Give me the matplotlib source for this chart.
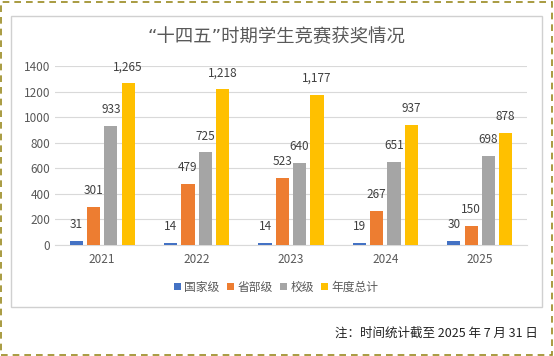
import matplotlib
matplotlib.use("Agg")
import matplotlib.pyplot as plt
from matplotlib.patches import Rectangle
import numpy as np

plt.rcParams['font.family'] = ['Noto Sans CJK SC', 'DejaVu Sans']

years = ["2021", "2022", "2023", "2024", "2025"]
series_names = ["国家级", "省部级", "校级", "年度总计"]
national = [31, 14, 14, 19, 30]
provincial = [301, 479, 523, 267, 150]
school = [933, 725, 640, 651, 698]
total = [1265, 1218, 1177, 937, 878]
colors = ["#4472C4", "#ED7D31", "#A5A5A5", "#FFC000"]
yticks = [0, 200, 400, 600, 800, 1000, 1200, 1400]

W, H = 554, 356
fig = plt.figure(figsize=(W/100, H/100), dpi=100)

# outer dashed border
fig.patches.append(Rectangle((1/W, 1/H), 1 - 3/W, 1 - 3/H, transform=fig.transFigure,
                             fill=False, edgecolor="#9a8a20", linestyle=(0, (4, 3)), linewidth=1.2))
# inner chart box
fig.patches.append(Rectangle((11/W, 1 - 307/H), (542-11)/W, (307-16)/H, transform=fig.transFigure,
                             fill=False, edgecolor="#D0D0D0", linewidth=1.0))

ax = fig.add_axes([55/W, 1 - 245/H, (527-55)/W, (245-66)/H])
x = np.arange(len(years))
width = 0.14
step = 0.183
data = [national, provincial, school, total]
for i, (vals, c, name) in enumerate(zip(data, colors, series_names)):
    pos = x + (i - 1.5) * step
    ax.bar(pos, vals, width=width, color=c, label=name, zorder=3)
    for p, v in zip(pos, vals):
        ax.annotate(f"{v:,}", (p, v), xytext=(0, 7), textcoords="offset points",
                    ha="center", va="bottom", fontsize=8.5, color="#404040")

ax.set_xlim(-0.5, 4.5)
ax.set_ylim(0, 1400)
ax.set_yticks(yticks)
ax.set_xticks(x)
ax.set_xticklabels(years)
ax.yaxis.grid(True, color="#D9D9D9", linewidth=0.8, zorder=0)
for s in ["top", "right", "left"]:
    ax.spines[s].set_visible(False)
ax.spines["bottom"].set_color("#D9D9D9")
ax.tick_params(axis="both", length=0, colors="#595959", labelsize=8.5)
ax.tick_params(axis="x", pad=6)

fig.text(276/W, 1 - 37/H, "“十四五”时期学生竞赛获奖情况", ha="center", va="center",
         fontsize=13.2, color="#595959", family=['DejaVu Sans', 'Noto Sans CJK SC'])

leg = fig.legend(loc="center", bbox_to_anchor=(276/W, 1 - 287/H), ncol=4, frameon=False,
                 fontsize=8.5, handlelength=0.6, handleheight=0.6, handletextpad=0.3,
                 columnspacing=0.6, labelcolor="#595959")

fig.text(538/W, 1 - 333/H, "注：时间统计截至 2025 年 7 月 31 日", ha="right", va="center",
         fontsize=9, color="#222222")

fig.savefig("out.png", dpi=100)
